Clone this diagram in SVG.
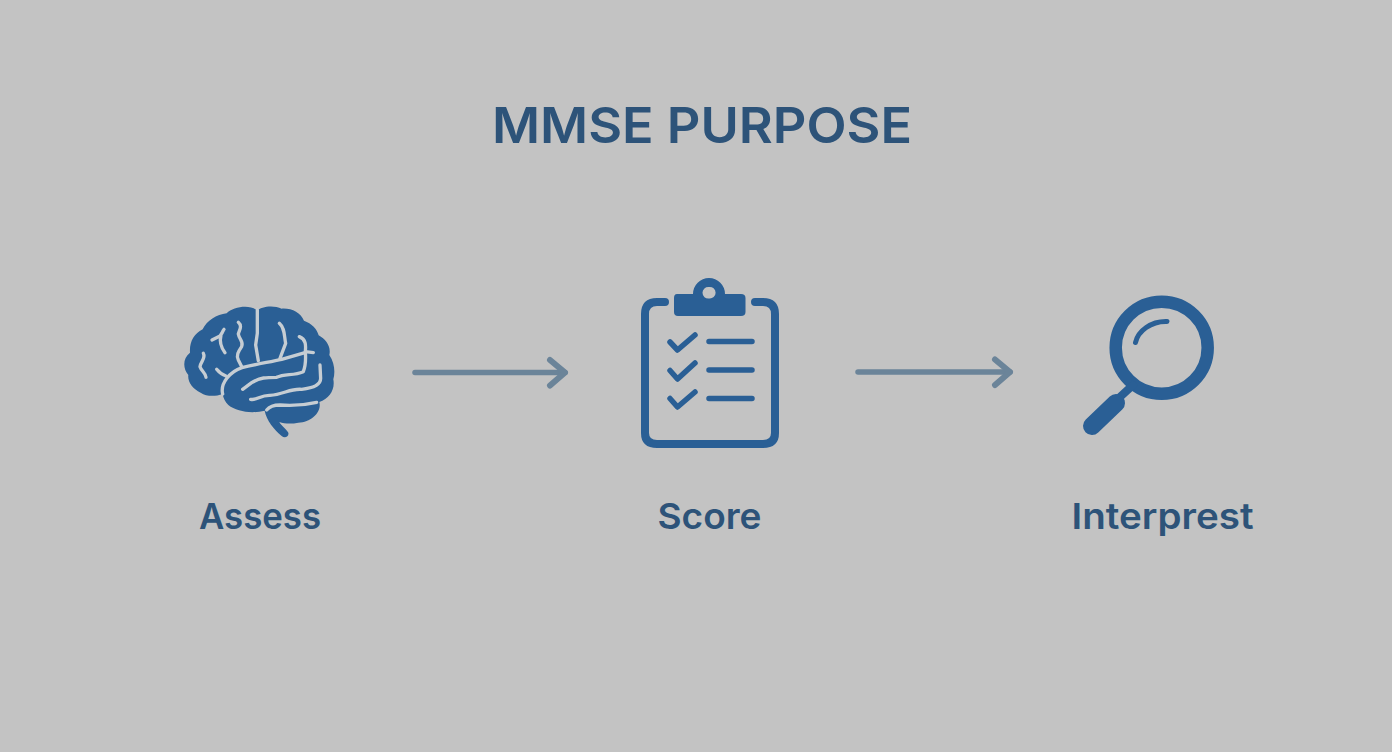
<svg xmlns="http://www.w3.org/2000/svg" width="1392" height="752" viewBox="0 0 1392 752">
<style>
.t{font-family:"Inter","Liberation Sans",sans-serif;fill:#2d5379;text-anchor:middle}
.title{font-size:50px;font-weight:600}
.lab{font-size:36px;font-weight:600}
.ln{fill:none;stroke:#2a5f95;stroke-linecap:round;stroke-linejoin:round}
.sul{fill:none;stroke:#c6cdd3;stroke-width:10;stroke-linecap:round;stroke-linejoin:round}
.conn{fill:none;stroke:#6b8499;stroke-width:5.5;stroke-linecap:round}
</style>
<defs>
<marker id="head" markerUnits="userSpaceOnUse" markerWidth="24" markerHeight="36" refX="20" refY="18" orient="auto" overflow="visible">
<path d="M5 5.500L20 18L5 31" fill="none" stroke="#6b8499" stroke-width="6" stroke-linecap="round" stroke-linejoin="round"/>
</marker>
</defs>
<rect width="1392" height="752" fill="#c3c3c3"/>
<g id="title"><text class="t title" x="702" y="143" textLength="420" lengthAdjust="spacingAndGlyphs">MMSE PURPOSE</text></g>
<g id="connectors">
<path class="conn" d="M415 372.500H565" marker-end="url(#head)"/>
<path class="conn" d="M858 372H1010" marker-end="url(#head)"/>
</g>
<g id="assess">
<g transform="translate(170 290) scale(.3333)">
<path fill="#2a5f95" d="M262 62C272 50 310 44 335 56C365 54 392 68 402 92C425 100 442 118 446 136C468 148 484 170 478 195C494 218 496 248 490 268C496 298 478 326 448 336C456 366 425 396 385 398C365 402 345 402 328 396C336 410 348 416 355 428C358 440 344 446 335 438C312 418 290 392 284 362C245 372 200 365 175 345C165 335 160 325 158 312C135 320 110 320 92 308C68 298 52 275 55 255C38 235 38 205 60 188C58 155 72 132 98 118C110 92 140 74 170 70C190 50 240 42 262 62Z"/>
<path class="sul" d="M262 60V130L257 165L265 212"/>
<path class="sul" d="M205 97C218 108 208 120 205 132C208 150 222 155 215 170C205 185 198 195 205 210L216 232"/>
<path class="sul" d="M126 150L150 138C162 122 158 122 162 118M153 135C148 155 155 175 165 188"/>
<path class="sul" d="M100 190C108 205 92 215 90 230C95 245 108 250 108 262"/>
<path class="sul" d="M140 238C148 248 156 254 168 258"/>
<path class="sul" d="M328 100C345 115 342 135 347 160L330 205"/>
<path class="sul" d="M388 140C408 148 408 165 406 185L430 188M406 185C408 210 406 230 400 245C370 258 345 250 320 262C290 262 270 262 245 278L218 298"/>
<path class="sul" d="M158 312C150 280 180 245 216 233C260 222 300 216 335 208L405 188"/>
<path class="sul" d="M242 328C262 332 270 315 300 316C340 314 360 295 395 298C425 295 452 285 452 265L450 225"/>
<path class="sul" d="M290 360C298 350 310 345 330 345C365 348 405 345 440 337" stroke-width="6"/>
</g>
<text class="t lab" x="260" y="529" textLength="122" lengthAdjust="spacingAndGlyphs">Assess</text>
</g>
<g id="score">
<path class="ln" stroke-width="8" d="M665 302H657Q645 302 645 314V433Q645 444 657 444H763Q775 444 775 433V314Q775 302 763 302H755"/>
<path fill="#2a5f95" fill-rule="evenodd" d="M677 294H693A16 16 0 0 1 725 294H741Q745.500 294 745.500 298V312Q745.500 316 741 316H678Q674 316 674 312V298Q674 294 677 294ZM709 287A5.800 5.800 0 1 0 709.100 298.500A5.800 5.800 0 1 0 709 287Z"/>
<path class="ln" stroke-width="5.500" d="M670 342L677.500 350L695 335M670 370.500L677.500 379L695 363M670 398.500L677.500 407L695 392M709 341.500H752M709 370H752M709 398.500H752"/>
<text class="t lab" x="709.500" y="529" textLength="104" lengthAdjust="spacingAndGlyphs">Score</text>
</g>
<g id="interpret">
<circle class="ln" cx="1161.700" cy="347.700" r="46" stroke-width="12.500"/>
<path class="ln" stroke-width="5" d="M1135.500 342.500C1138 331 1151 321 1167 321.500"/>
<path class="ln" stroke-width="8" stroke-linecap="butt" d="M1133 385L1120 397"/>
<path class="ln" stroke-width="18" d="M1116 403L1092 426"/>
<text class="t lab" x="1162.500" y="529" textLength="182" lengthAdjust="spacingAndGlyphs">Interprest</text>
</g>
</svg>
